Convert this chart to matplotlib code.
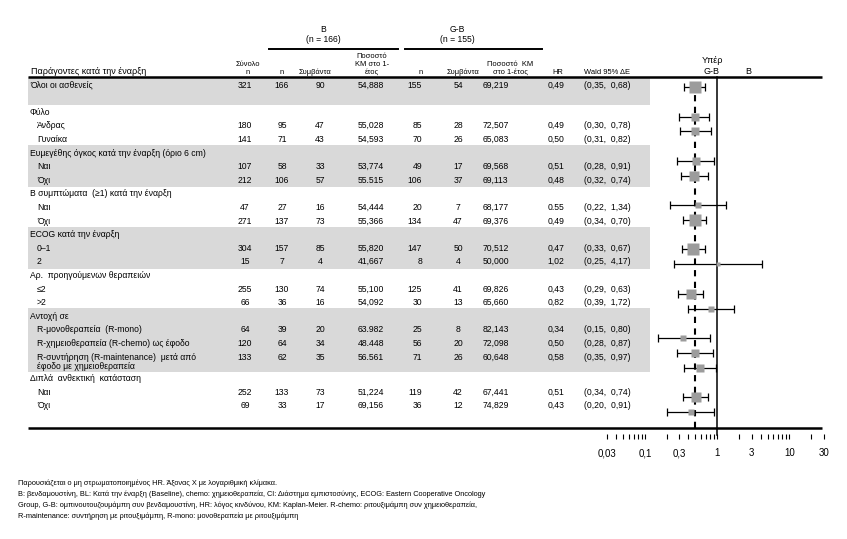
import numpy as np
import matplotlib.pyplot as plt
from matplotlib.ticker import FixedLocator, FixedFormatter, LogLocator, NullFormatter

FONT = ['Liberation Sans', 'DejaVu Sans']
plt.rcParams['font.family'] = FONT

# --- data -------------------------------------------------------------------
row_labels = ['Όλοι οι ασθενείς', 'Άνδρας', 'Γυναίκα', 'Ναι', 'Όχι', 'Ναι', 'Όχι',
              '0–1', '2', '≤2', '>2',
              'R-μονοθεραπεία  (R-mono)',
              'R-χημειοθεραπεία (R-chemo) ως έφοδο',
              'R-συντήρηση (R-maintenance)  μετά από\nέφοδο με χημειοθεραπεία',
              'Ναι', 'Όχι']
group_headers = ['Φύλο', 'Ευμεγέθης όγκος κατά την έναρξη (όριο 6 cm)',
                 'Β συμπτώματα  (≥1) κατά την έναρξη', 'ECOG κατά την έναρξη',
                 'Αρ.  προηγούμενων θεραπειών', 'Αντοχή σε',
                 'Διπλά  ανθεκτική  κατάσταση']
group_sizes = [2, 2, 2, 2, 2, 3, 2]
shaded_groups = [1, 3, 5]

total_n = [321, 180, 141, 107, 212, 47, 271, 304, 15, 255, 66, 64, 120, 133, 252, 69]
b_n = [166, 95, 71, 58, 106, 27, 137, 157, 7, 130, 36, 39, 64, 62, 133, 33]
b_events = [90, 47, 43, 33, 57, 16, 73, 85, 4, 74, 16, 20, 34, 35, 73, 17]
b_km = ['54,888', '55,028', '54,593', '53,774', '55.515', '54,444', '55,366',
        '55,820', '41,667', '55,100', '54,092', '63.982', '48.448', '56.561',
        '51,224', '69,156']
gb_n = [155, 85, 70, 49, 106, 20, 134, 147, 8, 125, 30, 25, 56, 71, 119, 36]
gb_events = [54, 28, 26, 17, 37, 7, 47, 50, 4, 41, 13, 8, 20, 26, 42, 12]
gb_km = ['69,219', '72,507', '65,083', '69,568', '69,113', '68,177', '69,376',
         '70,512', '50,000', '69,826', '65,660', '82,143', '72,098', '60,648',
         '67,441', '74,829']
hr_text = ['0,49', '0,49', '0,50', '0,51', '0,48', '0.55', '0,49', '0,47', '1,02',
           '0,43', '0,82', '0,34', '0,50', '0,58', '0,51', '0,43']
ci_low = [0.35, 0.30, 0.31, 0.28, 0.32, 0.22, 0.34, 0.33, 0.25, 0.29, 0.39,
          0.15, 0.28, 0.35, 0.34, 0.20]
ci_high = [0.68, 0.78, 0.82, 0.91, 0.74, 1.34, 0.70, 0.67, 4.17, 0.63, 1.72,
           0.80, 0.87, 0.97, 0.74, 0.91]

x_ticks = [0.03, 0.1, 0.3, 1, 3, 10, 30]
x_tick_labels = ['0,03', '0,1', '0,3', '1', '3', '10', '30']

footnotes = [
    'Παρουσιάζεται ο μη στρωματοποιημένος HR. Άξονας Χ με λογαριθμική κλίμακα.',
    'B: βενδαμουστίνη, BL: Κατά την έναρξη (Baseline), chemo: χημειοθεραπεία, '
    'CI: Διάστημα εμπιστοσύνης, ECOG: Eastern Cooperative Oncology',
    'Group, G-B: ομπινουτουζουμάμπη συν βενδαμουστίνη, HR: λόγος κινδύνου, '
    'KM: Kaplan-Meier. R-chemo: ριτουξιμάμπη συν χημειοθεραπεία,',
    'R-maintenance: συντήρηση με ριτουξιμάμπη, R-mono: μονοθεραπεία με ριτουξιμάμπη',
]

hr_vals = [float(h.replace(',', '.')) for h in hr_text]

# --- layout (pixel units) ---------------------------------------------------
W, H = 847, 539
step = 13.6
row_y, head_y, row_line, group_span = [], [], [], []
y = 85
row_y.append(y)
row_line.append(0)
line = 0
y += 2 * step
for size in group_sizes:
    head_y.append(y)
    line += 1
    first = y
    for j in range(size):
        y += step
        line += 1
        row_y.append(y)
        row_line.append(line)
        if '\n' in row_labels[len(row_y) - 1]:
            y += 8
    group_span.append((first, y))
    y += step

fig = plt.figure(figsize=(W / 100, H / 100), dpi=100)
tab = fig.add_axes([0, 0, 1, 1])
tab.set_xlim(0, W)
tab.set_ylim(H, 0)
tab.axis('off')

FS = 6.25
band = '#d9d9d9'
tab.fill_between([28, 650], 77, 105, color=band, lw=0)
for g in shaded_groups:
    top, bot = group_span[g]
    tab.fill_between([28, 650], top - 8, bot + 7, color=band, lw=0)

# header
tab.text(323, 30, 'B', ha='center', va='center', fontsize=FS)
tab.text(323, 40, '(n = 166)', ha='center', va='center', fontsize=FS)
tab.text(457, 30, 'G-B', ha='center', va='center', fontsize=FS)
tab.text(457, 40, '(n = 155)', ha='center', va='center', fontsize=FS)
tab.plot([269, 398], [49, 49], color='black', lw=1.4)
tab.plot([405, 542], [49, 49], color='black', lw=1.4)

hb = 75.5
hfs = 5.4
tab.text(31, hb, 'Παράγοντες κατά την έναρξη', ha='left', va='bottom', fontsize=6.5)
tab.text(248, hb, 'Σύνολο\nn', ha='center', va='bottom', fontsize=hfs, linespacing=1.2)
tab.text(282, hb, 'n', ha='center', va='bottom', fontsize=hfs)
tab.text(315, hb, 'Συμβάντα', ha='center', va='bottom', fontsize=hfs)
tab.text(372, hb, 'Ποσοστό\nKM στο 1-\nέτος', ha='center', va='bottom',
         fontsize=hfs, linespacing=1.2)
tab.text(421, hb, 'n', ha='center', va='bottom', fontsize=hfs)
tab.text(463, hb, 'Συμβάντα', ha='center', va='bottom', fontsize=hfs)
tab.text(510, hb, 'Ποσοστό  KM\nστο 1-έτος', ha='center', va='bottom',
         fontsize=hfs, linespacing=1.2)
tab.text(558, hb, 'HR', ha='center', va='bottom', fontsize=hfs)
tab.text(584, hb, 'Wald 95% ΔΕ', ha='left', va='bottom', fontsize=hfs)
tab.text(712, hb, 'Υπέρ\nG-B', ha='center', va='bottom', fontsize=6.5,
         linespacing=1.2)
tab.text(748, hb, 'B', ha='center', va='bottom', fontsize=6.5)

tab.plot([28, 822], [77, 77], color='black', lw=1.8, solid_capstyle='butt')
tab.plot([28, 822], [428, 428], color='black', lw=1.8, solid_capstyle='butt')

for gy, gt in zip(head_y, group_headers):
    tab.text(30, gy, gt, ha='left', va='center', fontsize=FS)

for i, ry in enumerate(row_y):
    lx = 30 if i == 0 else 37
    if '\n' in row_labels[i]:
        tab.text(lx, ry - 4.5, row_labels[i], ha='left', va='top', fontsize=FS,
                 linespacing=1.05)
    else:
        tab.text(lx, ry, row_labels[i], ha='left', va='center', fontsize=FS)
    tab.text(245, ry, str(total_n[i]), ha='center', va='center', fontsize=FS)
    tab.text(282, ry, str(b_n[i]), ha='center', va='center', fontsize=FS)
    tab.text(320, ry, str(b_events[i]), ha='center', va='center', fontsize=FS)
    tab.text(358, ry, b_km[i], ha='left', va='center', fontsize=FS)
    tab.text(422, ry, str(gb_n[i]), ha='right', va='center', fontsize=FS)
    tab.text(458, ry, str(gb_events[i]), ha='center', va='center', fontsize=FS)
    tab.text(483, ry, gb_km[i], ha='left', va='center', fontsize=FS)
    tab.text(556, ry, hr_text[i], ha='center', va='center', fontsize=FS)
    ci = '({},  {})'.format(('%.2f' % ci_low[i]).replace('.', ','),
                            ('%.2f' % ci_high[i]).replace('.', ','))
    tab.text(584, ry, ci, ha='left', va='center', fontsize=FS)

# footnotes (original face is a narrow one; no narrow font here, so a bit smaller)
for k, note in enumerate(footnotes):
    tab.text(18, 483 + 11 * k, note, ha='left', va='center', fontsize=5.3)

# --- forest plot ------------------------------------------------------------
x0, x1, y0, y1 = 607, 824, 77, 428
fax = fig.add_axes([x0 / W, 1 - y1 / H, (x1 - x0) / W, (y1 - y0) / H])
fax.patch.set_visible(False)
line_px, line_top = 14.77, 87
fax.set_ylim((y1 - line_top) / line_px, (y0 - line_top) / line_px)
fax.set_xscale('log')
fax.set_xlim(0.03, 30)

fax.axvline(1, ymin=-0.02, color='black', lw=1.1, clip_on=False)
fax.axvline(hr_vals[0], color='black', lw=1.5, linestyle=(0, (3, 2.6)),
            zorder=4)

for i in range(len(hr_vals)):
    yy = row_line[i]
    fax.errorbar(hr_vals[i], yy,
                 xerr=[[hr_vals[i] - ci_low[i]], [ci_high[i] - hr_vals[i]]],
                 fmt='none', ecolor='black', elinewidth=0.9, capsize=3,
                 capthick=0.9)
    side = 0.6 + 0.95 * np.sqrt(b_events[i] + gb_events[i])
    fax.plot(hr_vals[i], yy, marker='s', ms=side * 0.72, color='#9c9c9c',
             mec='none', zorder=5)

for s in ['top', 'right', 'left']:
    fax.spines[s].set_visible(False)
fax.spines['bottom'].set_visible(False)
fax.spines['bottom'].set_position(('outward', 4))
fax.set_yticks([])
fax.xaxis.set_major_locator(FixedLocator(x_ticks))
fax.xaxis.set_major_formatter(FixedFormatter(x_tick_labels))
fax.xaxis.set_minor_locator(LogLocator(base=10, subs=np.arange(2, 10)))
fax.xaxis.set_minor_formatter(NullFormatter())
fax.tick_params(axis='x', which='both', direction='out', length=3.5, width=0.8,
                labelsize=7, pad=7)

fig.savefig('out.png', dpi=100)
